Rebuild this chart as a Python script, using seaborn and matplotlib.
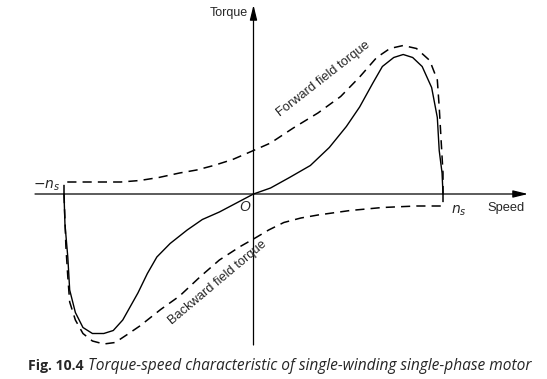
import pandas as pd
import matplotlib
matplotlib.use("Agg")
import matplotlib.pyplot as plt
import seaborn as sns

# speed as fraction of synchronous speed, torque normalised to forward peak
forward_speed = [-1.00, -1.00, -0.70, -0.60, -0.50, -0.39, -0.30, -0.21, -0.11, 0.00,
                 0.09, 0.21, 0.34, 0.46, 0.56, 0.65, 0.72, 0.79, 0.86, 0.93,
                 0.97, 0.98, 0.99, 1.00, 1.00]
forward_torque = [0.00, 0.08, 0.08, 0.09, 0.11, 0.14, 0.16, 0.19, 0.23, 0.29,
                  0.34, 0.44, 0.54, 0.65, 0.78, 0.91, 0.97, 0.99, 0.97, 0.89,
                  0.76, 0.58, 0.36, 0.14, 0.00]

backward_speed = [-1.00, -0.99, -0.98, -0.97, -0.94, -0.90, -0.85, -0.79, -0.73, -0.67,
                  -0.60, -0.49, -0.39, -0.28, -0.18, -0.07, 0.00, 0.08, 0.16, 0.25,
                  0.34, 0.51, 0.68, 0.86, 1.00, 1.00]
backward_torque = [0.00, -0.35, -0.55, -0.72, -0.84, -0.93, -0.98, -1.00, -0.99, -0.94,
                   -0.88, -0.77, -0.68, -0.55, -0.44, -0.35, -0.30, -0.24, -0.19, -0.16,
                   -0.14, -0.11, -0.09, -0.08, -0.08, 0.00]

resultant_speed = [-1.00, -0.995, -0.98, -0.97, -0.94, -0.90, -0.85, -0.79, -0.74, -0.69,
                   -0.65, -0.61, -0.56, -0.51, -0.44, -0.35, -0.27, -0.18, -0.09, 0.00,
                   0.09, 0.19, 0.30, 0.40, 0.49, 0.56, 0.63, 0.68, 0.74, 0.79,
                   0.84, 0.89, 0.94, 0.97, 0.98, 0.995, 1.00]
resultant_torque = [0.00, -0.20, -0.42, -0.64, -0.79, -0.89, -0.93, -0.93, -0.91, -0.84,
                    -0.75, -0.66, -0.53, -0.42, -0.33, -0.24, -0.17, -0.12, -0.06, 0.00,
                    0.04, 0.11, 0.19, 0.31, 0.45, 0.58, 0.74, 0.85, 0.91, 0.93,
                    0.91, 0.85, 0.71, 0.51, 0.29, 0.14, 0.00]

sns.set_style("white")
plt.rcParams["font.family"] = ["Liberation Sans", "DejaVu Sans"]

W, H = 547, 379
fig = plt.figure(figsize=(W / 100, H / 100), dpi=100)
ax = fig.add_axes([0, 0, 1, 1])

# pixel mapping: origin at (253.5, 194), ns = 189.5 px, unit torque = 150 px
x0, y0, sx, sy = 253.5, 194, 189.5, 150
ax.set_xlim(-x0 / sx, (W - x0) / sx)
ax.set_ylim(-(H - y0) / sy, y0 / sy)
ax.axis("off")

dash = (0, (6, 4))
fwd = pd.DataFrame({"speed": forward_speed, "torque": forward_torque})
bwd = pd.DataFrame({"speed": backward_speed, "torque": backward_torque})
res = pd.DataFrame({"speed": resultant_speed, "torque": resultant_torque})
sns.lineplot(data=fwd, x="speed", y="torque", sort=False, estimator=None,
             color="black", lw=1.1, linestyle=dash, ax=ax)
sns.lineplot(data=bwd, x="speed", y="torque", sort=False, estimator=None,
             color="black", lw=1.1, linestyle=dash, ax=ax)
sns.lineplot(data=res, x="speed", y="torque", sort=False, estimator=None,
             color="black", lw=1.0, ax=ax)

# axes with arrows
arrow = dict(arrowstyle="-|>,head_length=0.9,head_width=0.22", color="black",
             lw=0.9, shrinkA=0, shrinkB=0, mutation_scale=10)
ax.annotate("", xy=((528 - x0) / sx, 0), xytext=((35 - x0) / sx, 0), arrowprops=arrow)
ax.annotate("", xy=(0, (y0 - 5) / sy), xytext=(0, -(345 - y0) / sy), arrowprops=arrow)

ax.text(-0.03, (y0 - 13) / sy, "Torque", ha="right", va="center", fontsize=9)
ax.text((487 - x0) / sx, -(208 - y0) / sy, "Speed", ha="left", va="center", fontsize=9.3)
ax.text(-0.045, -0.09, "O", ha="center", va="center", fontsize=10, style="italic")
ax.text(-1.02, 0.055, r"$-n_s$", ha="right", va="center", fontsize=10)
ax.text(1.04, -0.11, r"$n_s$", ha="left", va="center", fontsize=10)

ax.text(0.367, 0.767, "Forward field torque", rotation=38, rotation_mode="anchor",
        ha="center", va="center", fontsize=9.3)
ax.text(-0.187, -0.593, "Backward field torque", rotation=40, rotation_mode="anchor",
        ha="center", va="center", fontsize=9.3)

# caption
fig.text(28 / W, 1 - 366 / H, "Fig. 10.4", ha="left", va="center", fontsize=10.2,
         fontweight="bold", family=["Open Sans", "DejaVu Sans"])
fig.text(88 / W, 1 - 366 / H,
         "Torque-speed characteristic of single-winding single-phase motor",
         ha="left", va="center", fontsize=11.2, style="italic",
         family=["Open Sans", "DejaVu Sans"])

fig.savefig("out.png", dpi=100)
